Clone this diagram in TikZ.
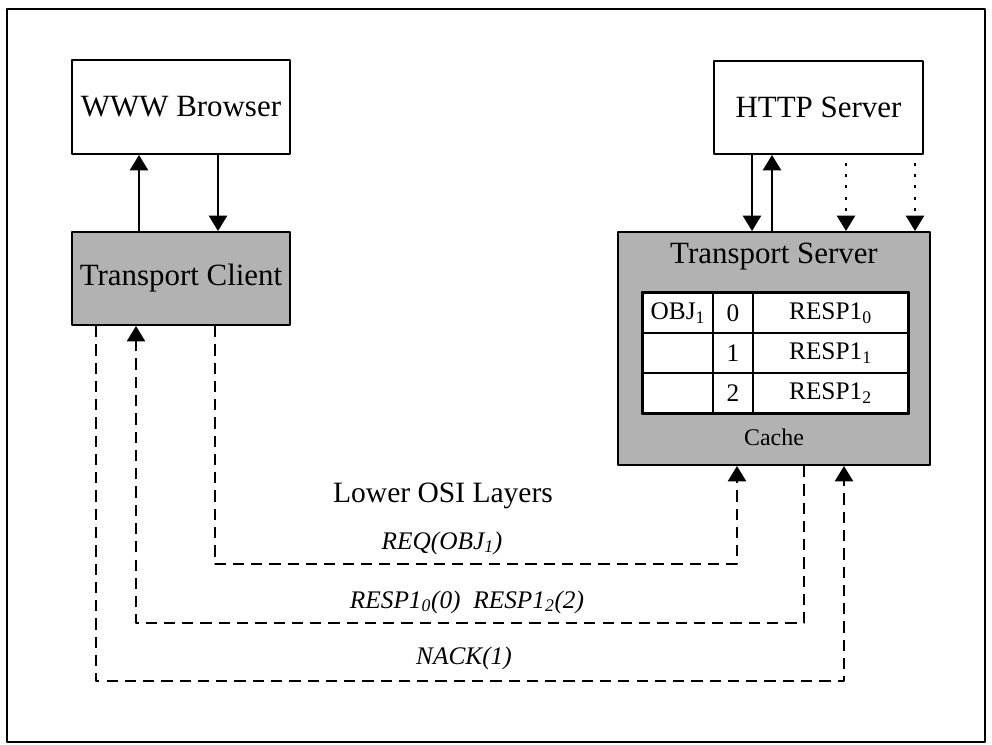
\documentclass[tikz,border=0pt]{standalone}
\usepackage{fontspec}
\setmainfont{Liberation Serif}
\usetikzlibrary{arrows.meta}
\begin{document}
\begin{tikzpicture}[x=0.25mm, y=-0.25mm, line join=round,
        >={Triangle[width=13pt,length=11pt]},
        box/.style={draw, line width=1.4pt, inner sep=0pt, font=\fontsize{22}{26}\selectfont},
        shaded/.style={box, fill=black!30},
        cell/.style={draw, fill=white, line width=1.4pt, inner sep=0pt, minimum height=10mm,
            font=\fontsize{18}{21}\selectfont},
        link/.style={line width=1.4pt, ->},
        dline/.style={line width=1.4pt, dash pattern=on 8pt off 5pt},
        dotline/.style={line width=1.4pt, dash pattern=on 2pt off 6pt},
        msg/.style={font=\fontsize{18}{21}\selectfont\itshape}]
        \useasboundingbox (0,0) rectangle (992,745);
        \draw[line width=1pt] (7,9) rectangle (985,742);
        % upper layer
        \node[box, minimum width=54.5mm, minimum height=23.5mm] (browser) at (181,107) {WWW Browser};
        \node[box, minimum width=52.25mm, minimum height=23.25mm] (http) at (818.5,107.5) {HTTP Server};
        % transport layer
        \node[shaded, minimum width=54.5mm, minimum height=23.25mm] (client) at (181,278.5) {Transport Client};
        \node[shaded, minimum width=78mm, minimum height=58.25mm] (server) at (774,348.5) {};
        \node[font=\fontsize{22}{26}\selectfont] (tslabel) at (774,257) {Transport Server};
        \node[font=\fontsize{17}{20}\selectfont] (cache) at (774,437) {Cache};
        % cache table
        \node[cell, minimum width=17.5mm] (obj) at (678,313) {OBJ\textsubscript{1}};
        \node[cell, minimum width=10mm] (n0) at (733,313) {0};
        \node[cell, minimum width=38.75mm] (r0) at (830.5,313) {RESP1\textsubscript{0}};
        \node[cell, minimum width=17.5mm] (e1) at (678,353) {};
        \node[cell, minimum width=10mm] (n1) at (733,353) {1};
        \node[cell, minimum width=38.75mm] (r1) at (830.5,353) {RESP1\textsubscript{1}};
        \node[cell, minimum width=17.5mm] (e2) at (678,393) {};
        \node[cell, minimum width=10mm] (n2) at (733,393) {2};
        \node[cell, minimum width=38.75mm] (r2) at (830.5,393) {RESP1\textsubscript{2}};
        \draw[line width=1.4pt] (obj.north west) rectangle (r2.south east);
        % browser <-> client
        \draw[link] (139,0 |- client.north) -- (139,0 |- browser.south);
        \draw[link] (218,0 |- browser.south) -- (218,0 |- client.north);
        % http <-> server
        \draw[link] (752,0 |- http.south) -- (752,0 |- server.north);
        \draw[link] (772,0 |- server.north) -- (772,0 |- http.south);
        \draw[dotline, ->] (846,163) -- (846,0 |- server.north);
        \draw[dotline, ->] (915,163) -- (915,0 |- server.north);
        % lower layers
        \node[font=\fontsize{21}{24}\selectfont] (osi) at (443,496) {Lower OSI Layers};
        \draw[dline, ->] (215,0 |- client.south) |- (737,564) -- (737,0 |- server.south);
        \draw[dline, ->] (804,0 |- server.south) |- (136,623) -- (136,0 |- client.south);
        \draw[dline, ->] (96,0 |- client.south) |- (844,681) -- (844,0 |- server.south);
        \node[msg] (req) at (442,543) {REQ(OBJ\textsubscript{1})};
        \node[msg] (resp) at (467,602) {RESP1\textsubscript{0}(0)\enspace RESP1\textsubscript{2}(2)};
        \node[msg] (nack) at (464,658) {NACK(1)};
\end{tikzpicture}
\end{document}
